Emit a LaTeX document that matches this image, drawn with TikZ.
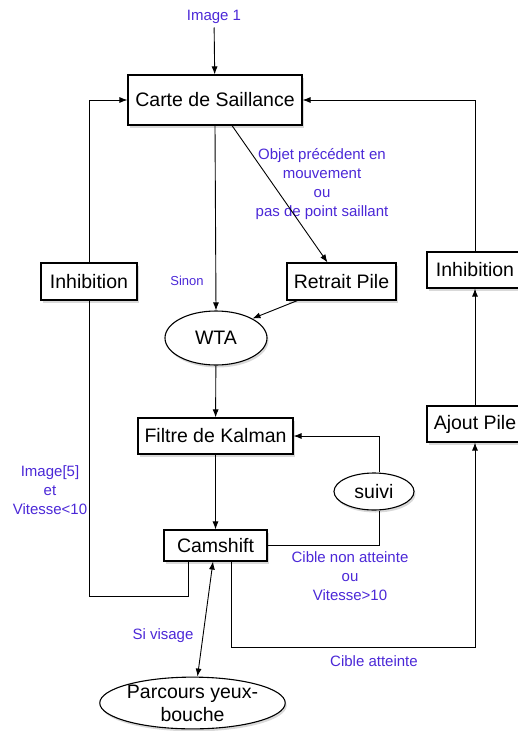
\documentclass[tikz,border=0pt]{standalone}
\usepackage{fontspec}
\setmainfont{Liberation Sans}
\usetikzlibrary{arrows.meta,shapes.geometric,shadows}
\definecolor{lblue}{RGB}{75,40,215}

\begin{document}
\begin{tikzpicture}[x=1pt, y=-1pt, line width=0.9pt, >={Latex[length=8pt,width=6pt]},
    box/.style={draw, fill=white, inner sep=0pt, line width=1.1pt, font=\fontsize{19.5}{23}\selectfont,
      drop shadow={opacity=0.3, shadow xshift=1.5pt, shadow yshift=-2.5pt}},
    oval/.style={box, ellipse},
    lbl/.style={text=lblue, align=center, font=\fontsize{15}{19}\selectfont}]
      \useasboundingbox (0,0) rectangle (518,731);
      % boxes
      \node [box, minimum width=174pt, minimum height=50pt] (carte) at (215,100) {Carte de Saillance};
      \node [box, minimum width=96pt, minimum height=37pt] (inhibL) at (89,281.5) {Inhibition};
      \node [box, minimum width=109pt, minimum height=37pt] (retrait) at (341.5,281.5) {Retrait Pile};
      \node [box, minimum width=96pt, minimum height=36pt] (inhibR) at (475,270) {Inhibition};
      \node [box, minimum width=96pt, minimum height=36pt] (ajout) at (475,424) {Ajout Pile};
      \node [oval, minimum width=102pt, minimum height=54pt] (wta) at (216,338) {WTA};
      \node [box, minimum width=155pt, minimum height=36pt] (kalman) at (215.5,436) {Filtre de Kalman};
      \node [oval, minimum width=80pt, minimum height=37pt] (suivi) at (374,491.5) {suivi};
      \node [box, minimum width=103pt, minimum height=31pt] (camshift) at (215.5,545.5) {Camshift};
      \node [oval, minimum width=185pt, minimum height=50pt, align=center] (parcours) at (192.5,703) {Parcours yeux-\\bouche};
      % labels
      \node [lbl] (img) at (214,17) {Image 1};
      \node [lbl, font=\fontsize{13}{16}\selectfont] (sinon) at (187,281) {Sinon};
      \node [lbl] (objet) at (322,184) {Objet précédent en\\mouvement\\ou\\pas de point saillant};
      \node [lbl] (image5) at (50,490) {Image[5]\\et\\Vitesse<10};
      \node [lbl] (nonatt) at (350,576) {Cible non atteinte\\ou\\Vitesse>10};
      \node [lbl] (visage) at (163,636) {Si visage};
      \node [lbl] (atteinte) at (374,661) {Cible atteinte};
      % connectors
      \draw [->] (img) -- (carte);
      \draw [->] (carte.south) -- (wta.north);
      \draw [->] ([xshift=17pt]carte.south) -- ([xshift=-14pt]retrait.north);
      \draw [->] ([xshift=11pt]retrait.south west) -- (wta.north east);
      \draw [->] (wta) -- (kalman);
      \draw [->] (kalman) -- (camshift);
      \draw [->] ([xshift=5pt]suivi.north) |- (kalman.east);
      \draw (camshift.east) -| ([xshift=5pt]suivi.south);
      \draw [<->] ([xshift=-2.5pt]camshift.south) -- ([xshift=5pt]parcours.north);
      \draw ([xshift=-27.5pt]camshift.south) -- ++(0,35) -| (inhibL.south);
      \draw [->] (inhibL.north) |- (carte.west);
      \draw [->] ([xshift=15.5pt]camshift.south) -- ++(0,86) -| (ajout.south);
      \draw [->] (ajout) -- (inhibR);
      \draw [->] (inhibR.north) |- (carte.east);
\end{tikzpicture}
\end{document}
